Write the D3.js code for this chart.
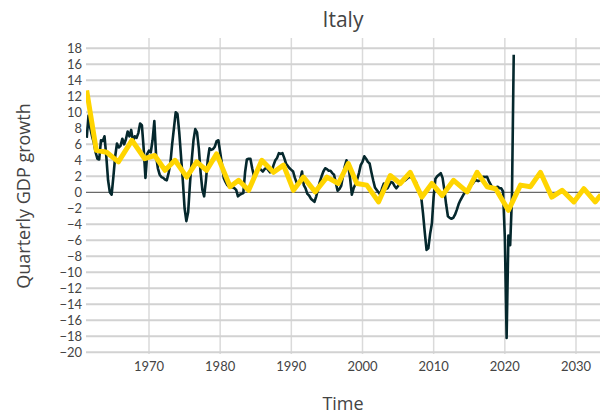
<!DOCTYPE html>
<html>
    <head>
        <meta charset="utf-8">
        <script src="https://d3js.org/d3.v7.min.js"></script>
        <style>
            body { margin: 0; background: #fff; }
            text { font-family: "Open Sans", sans-serif; fill: #444; }
            .tick-label { font-family: Lato, "Open Sans", sans-serif; font-size: 13px; }
        </style>
    </head>
    <body>

        <script>
            // quarterly GDP growth, starting 1961 Q2
            var firstQuarter = 1961.25;
            var gdpGrowth = [
                6.8, 9.6, 8.0,
                7.0, 6.2, 5.0, 4.2,
                4.1, 6.5, 6.4, 7.0,
                4.5, 1.5, 0.0, -0.3,
                2.0, 4.5, 6.1, 5.6,
                5.8, 6.7, 6.0, 6.6,
                7.6, 7.0, 7.8, 6.3,
                7.0, 6.8, 7.4, 8.6,
                8.4, 5.5, 1.8, 4.8,
                5.2, 5.0, 6.5, 8.9,
                4.5, 3.0, 2.2, 1.9,
                1.8, 1.6, 1.5, 2.4,
                3.6, 6.0, 8.0, 10.0,
                9.8, 7.5, 4.5, 1.5,
                -2.0, -3.6, -2.5, 1.0,
                4.0, 6.5, 7.9, 7.5,
                5.5, 2.5, 0.3, -0.5,
                1.5, 4.0, 5.5, 5.3,
                5.4, 5.7, 6.4, 6.5,
                5.0, 3.5, 1.8, 1.3,
                0.9, 0.7, 0.6, 0.7,
                0.5, 0.3, -0.5, -0.3,
                -0.2, -0.1, 2.5, 4.1,
                4.2, 4.2, 3.0, 2.0,
                2.4, 2.8, 3.0, 2.8,
                2.6, 2.9, 3.1, 2.8,
                2.5, 2.6, 3.4, 4.0,
                4.3, 4.9, 4.8, 4.9,
                4.3, 3.6, 3.3, 3.0,
                2.8, 2.6, 1.8, 1.2,
                1.1, 1.6, 2.6, 0.9,
                0.5, -0.2, -0.4, -0.8,
                -1.0, -1.2, -0.5, 0.4,
                1.3, 2.0, 2.6, 3.0,
                2.9, 2.7, 2.7, 2.4,
                2.2, 1.2, 0.2, 0.4,
                0.8, 2.0, 3.2, 4.0,
                3.3, 1.8, -0.3, 0.5,
                1.0, 1.6, 2.4, 3.4,
                3.8, 4.5, 4.2, 3.8,
                3.6, 2.5, 1.5, 0.6,
                0.3, 0.0, -0.3, 0.5,
                1.1, 0.4, 0.5, 0.9,
                1.3, 1.2, 0.8, 0.5,
                0.8, 1.1, 1.2, 1.4,
                1.5, 1.7, 1.9, 1.9,
                1.8, 1.5, 1.3, 0.6,
                0.1, -0.6, -2.6, -5.0,
                -7.2, -7.0, -5.2, -3.9,
                -0.5, 1.7, 2.0, 2.2,
                2.4, 1.8, 0.3, -1.5,
                -3.0, -3.2, -3.3, -3.2,
                -2.8, -2.2, -1.5, -1.0,
                -0.6, -0.2, 0.0, 0.2,
                0.5, 0.9, 1.1, 1.4,
                1.5, 1.4, 1.5, 1.8,
                1.95, 1.9, 1.95, 1.4,
                1.0, 0.5, 0.5, 0.6,
                0.7, 0.5, 0.5, 0.1,
                -5.6, -18.2, -5.4, -6.6,
                -0.6, 17.2
            ];

            // fitted / forecast series
            var trendYears = [1961.24, 1962.6, 1964.05, 1965.7, 1967.6, 1969.4, 1970.8, 1972.25, 1973.65,
                1975.3, 1976.7, 1978.1, 1979.5, 1981.4, 1982.6, 1984.0, 1985.85, 1987.5, 1988.9,
                1990.3, 1991.7, 1993.35, 1995.0, 1996.6, 1998.0, 1999.2, 2000.6, 2002.25, 2003.9,
                2005.3, 2006.7, 2008.35, 2009.75, 2011.2, 2012.8, 2014.7, 2016.1, 2017.5, 2018.7,
                2020.5, 2022.2, 2023.6, 2025.0, 2026.6, 2028.05, 2029.7, 2031.1, 2032.7, 2033.5];
            var trendValues = [12.75, 5.25, 5.0, 3.8, 6.5, 4.2, 4.6, 2.75, 4.0,
                1.9, 3.8, 2.75, 4.8, 0.7, 1.5, 0.25, 4.0, 2.5, 3.4,
                0.25, 1.9, 0.05, 1.9, 1.1, 3.6, 1.1, 0.9, -1.2, 2.1,
                1.1, 2.5, -0.6, 1.1, -0.4, 1.5, 0.05, 2.5, 0.7, 0.45,
                -2.25, 0.9, 0.7, 2.5, -0.6, 0.25, -1.2, 0.45, -1.2, -0.3];

            var yTicks = d3.range(-20, 19, 2);
            var xTicks = [1970, 1980, 1990, 2000, 2010, 2020, 2030];

            var plot = { left: 86, right: 600, top: 38, bottom: 354 };

            var x = d3.scaleLinear().domain([1970, 2030]).range([149, 576]);
            var y = d3.scaleLinear().domain([-20, 18]).range([352.3, 48.3]);

            var svg = d3.select('body')
                        .append('svg')
                        .attr('width', 600)
                        .attr('height', 416);

            svg.append('defs').append('clipPath')
                .attr('id', 'plotclip')
                .append('rect')
                .attr('x', plot.left)
                .attr('y', plot.top)
                .attr('width', plot.right - plot.left)
                .attr('height', plot.bottom - plot.top);

            // grid
            svg.append('g').selectAll('line')
                .data(xTicks)
                .enter().append('line')
                    .attr('x1', function(d) { return x(d); })
                    .attr('x2', function(d) { return x(d); })
                    .attr('y1', plot.top)
                    .attr('y2', plot.bottom)
                    .style('stroke', '#dadada')
                    .style('stroke-width', 1.5);

            svg.append('g').selectAll('line')
                .data(yTicks.filter(function(d) { return d !== 0; }))
                .enter().append('line')
                    .attr('x1', plot.left)
                    .attr('x2', plot.right)
                    .attr('y1', function(d) { return y(d); })
                    .attr('y2', function(d) { return y(d); })
                    .style('stroke', '#d2d2d2')
                    .style('stroke-width', 2);

            svg.append('line')
                .attr('x1', plot.left)
                .attr('x2', plot.right)
                .attr('y1', y(0))
                .attr('y2', y(0))
                .style('stroke', '#444')
                .style('stroke-width', 1);

            // tick labels
            svg.append('g').selectAll('text')
                .data(yTicks)
                .enter().append('text')
                    .attr('class', 'tick-label')
                    .attr('x', 82)
                    .attr('y', function(d) { return y(d); })
                    .attr('dy', '0.36em')
                    .attr('text-anchor', 'end')
                    .text(function(d) { return d < 0 ? '\u2212' + Math.abs(d) : d; });

            svg.append('g').selectAll('text')
                .data(xTicks)
                .enter().append('text')
                    .attr('class', 'tick-label')
                    .attr('x', function(d) { return x(d); })
                    .attr('y', 371)
                    .attr('text-anchor', 'middle')
                    .text(function(d) { return d; });

            // lines
            var lines = svg.append('g').attr('clip-path', 'url(#plotclip)');

            var gdpLine = d3.line()
                .x(function(d, i) { return x(firstQuarter + i / 4); })
                .y(function(d) { return y(d); });

            lines.append('path')
                .datum(gdpGrowth)
                .attr('d', gdpLine)
                .style('fill', 'none')
                .style('stroke', '#05282d')
                .style('stroke-width', 2.6)
                .style('stroke-linejoin', 'round');

            var trendLine = d3.line()
                .x(function(d, i) { return x(trendYears[i]); })
                .y(function(d) { return y(d); });

            lines.append('path')
                .datum(trendValues)
                .attr('d', trendLine)
                .style('fill', 'none')
                .style('stroke', '#ffd500')
                .style('stroke-width', 5)
                .style('stroke-linejoin', 'round');

            // titles
            svg.append('text')
                .attr('x', 343)
                .attr('y', 27)
                .attr('text-anchor', 'middle')
                .style('font-size', '21px')
                .text('Italy');

            svg.append('text')
                .attr('x', 343)
                .attr('y', 410)
                .attr('text-anchor', 'middle')
                .style('font-size', '18px')
                .text('Time');

            svg.append('text')
                .attr('transform', 'translate(30,196) rotate(-90)')
                .attr('text-anchor', 'middle')
                .style('font-size', '18px')
                .text('Quarterly GDP growth');
        </script>
    </body>
</html>
